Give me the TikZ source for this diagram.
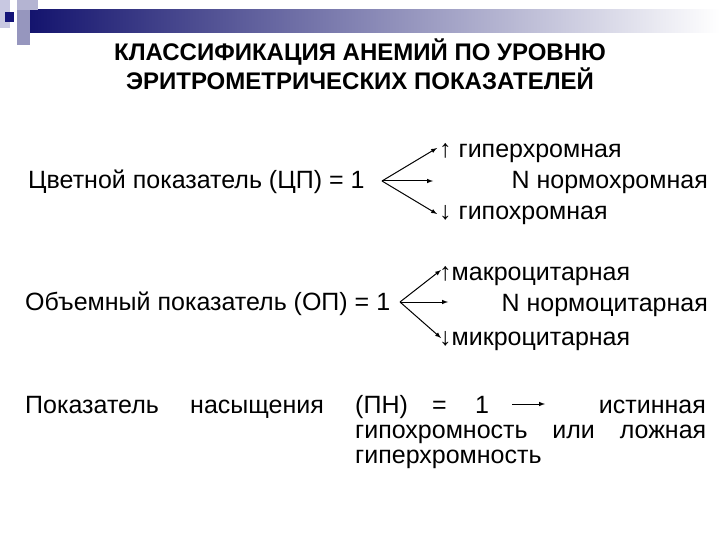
\documentclass[tikz,border=0pt]{standalone}
\usepackage{fontspec}
\setmainfont{Liberation Sans}
\definecolor{navy}{RGB}{20,20,110}
\definecolor{sqa}{RGB}{200,200,225}
\definecolor{sqb}{RGB}{180,180,210}
\definecolor{sqc}{RGB}{150,150,190}
\definecolor{sqd}{RGB}{20,20,120}
\begin{document}
\begin{tikzpicture}[x=1pt,y=-1pt,
  txt/.style={inner sep=0pt,font=\fontsize{25}{28}\selectfont},
  ttl/.style={inner sep=0pt,font=\bfseries\fontsize{24}{28}\selectfont},
  arr/.style={-latex,line width=1pt}]
\useasboundingbox (0,0) rectangle (720,540);
\fill[white] (0,0) rectangle (720,540);
% decoration
\shade[left color=navy,right color=white] (30,10) rectangle (720,33);
\fill[sqa] (0,0) rectangle (10,28);
\fill[sqb] (17,0) rectangle (38,10);
\fill[sqc] (17,10) rectangle (30,45);
\fill[sqd] (5,12) rectangle (14,22);
% title
\node[ttl,anchor=base] (t1) at (360,61) {КЛАССИФИКАЦИЯ АНЕМИЙ ПО УРОВНЮ};
\node[ttl,anchor=base] (t2) at (360,90) {ЭРИТРОМЕТРИЧЕСКИХ ПОКАЗАТЕЛЕЙ};
% block 1
\node[txt,anchor=base west] (cp) at (28,189) {Цветной показатель (ЦП) = 1};
\coordinate (c0) at (382,181);
\coordinate (c1) at (437,148);
\coordinate (c2) at (433,181);
\coordinate (c3) at (437,214);
\draw[arr] (c0) -- (c1);
\draw[arr] (c0) -- (c2);
\draw[arr] (c0) -- (c3);
\node[txt,anchor=base west] (a1) at (439,158) {↑ гиперхромная};
\node[txt,anchor=base east] (a2) at (708,189) {N нормохромная};
\node[txt,anchor=base west] (a3) at (439,220) {↓ гипохромная};
% block 2
\node[txt,anchor=base west] (op) at (25,310) {Объемный показатель (ОП) = 1};
\coordinate (o0) at (400,302);
\coordinate (o1) at (441,270);
\coordinate (o2) at (448,302);
\coordinate (o3) at (441,338);
\draw[arr] (o0) -- (o1);
\draw[arr] (o0) -- (o2);
\draw[arr] (o0) -- (o3);
\node[txt,anchor=base west] (b1) at (439,280) {↑макроцитарная};
\node[txt,anchor=base east] (b2) at (708,311) {N нормоцитарная};
\node[txt,anchor=base west] (b3) at (439,345) {↓микроцитарная};
% block 3
\node[txt,anchor=base west] (p1) at (25,413) {Показатель};
\node[txt,anchor=base west] (p2) at (190,413) {насыщения};
\node[txt,anchor=base west] (p3) at (355,413) {(ПН)};
\node[txt,anchor=base west] (p4) at (432,413) {=};
\node[txt,anchor=base west] (p5) at (475,413) {1};
\coordinate (r0) at (512,404);
\coordinate (r1) at (545,404);
\draw[arr] (r0) -- (r1);
\node[txt,anchor=base east] (p6) at (706,413) {истинная};
\node[txt,anchor=base west] (q1) at (355,438) {\makebox[351pt]{гипохромность\hfill или\hfill ложная}};
\node[txt,anchor=base west] (q2) at (355,463) {гиперхромность};
\end{tikzpicture}
\end{document}
